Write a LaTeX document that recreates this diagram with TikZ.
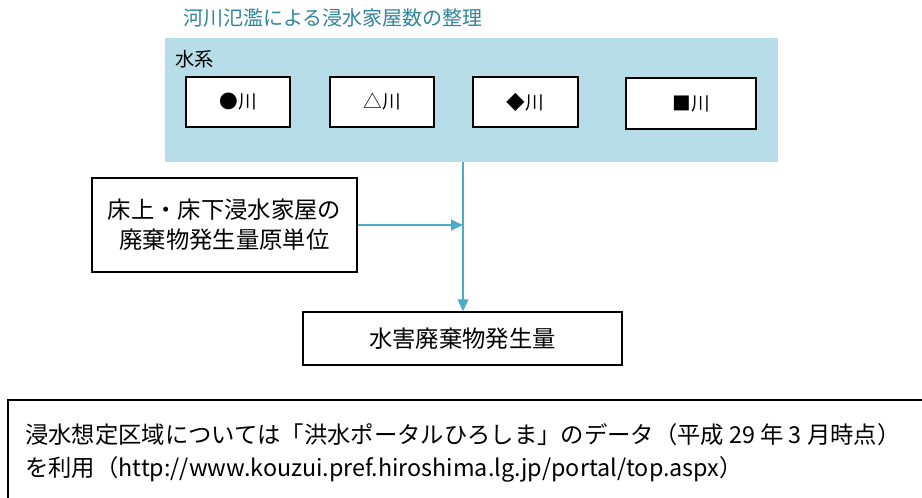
\documentclass[tikz,border=0pt]{standalone}
\usepackage{fontspec}
\setmainfont{Noto Sans CJK JP}
\usetikzlibrary{positioning,arrows.meta}

\definecolor{aquafill}{HTML}{B7DEE8}
\definecolor{aqualine}{HTML}{4BACC6}
\definecolor{aquatext}{HTML}{31849B}

\begin{document}
\begin{tikzpicture}[x=0.75pt, y=-0.75pt,
water_system/.style={rectangle, draw=none, fill=aquafill, minimum width=459.75pt, minimum height=93pt},
river_box/.style={rectangle, draw=black, fill=white, line width=1.1pt, minimum width=78pt, minimum height=37.5pt, font=\fontsize{14}{16}\selectfont},
plain_box/.style={rectangle, draw=black, fill=white, line width=1.1pt, align=center, font=\fontsize{17.5}{22.5}\selectfont},
out_arrow/.style={-{Triangle[length=9pt, width=8pt]}, draw=aqualine, line width=1.5pt},
flow_line/.style={draw=aqualine, line width=1.5pt}
]

\useasboundingbox (0,0) rectangle (922,497);
\clip (0,0) rectangle (922,497);

\node[anchor=west, text=aquatext, font=\fontsize{15}{18}\selectfont, inner sep=0pt](title) at (183,18) {河川氾濫による浸水家屋数の整理};

\node[water_system](system) at (471.5,100) {};
\node[anchor=west, font=\fontsize{14.5}{17}\selectfont, inner sep=0pt](system_label) at (175,59) {水系};

\node[river_box](river_one) at (238,102) {●川};
\node[river_box](river_two) at (382,102) {△川};
\node[river_box, minimum width=78.75pt](river_three) at (525.5,102) {◆川};
\node[river_box, minimum width=97.5pt, minimum height=38.25pt](river_four) at (691,103.5) {■川};

\node[plain_box, minimum width=198.75pt, minimum height=70.5pt](unit_rate) at (224.5,225) {床上・床下浸水家屋の\\廃棄物発生量原単位};
\node[plain_box, minimum width=239.25pt, minimum height=39.75pt](waste_amount) at (462.5,338.5) {水害廃棄物発生量};

\coordinate (join) at (463,225);

\node[rectangle, draw=black, line width=1.1pt, minimum width=695.25pt, minimum height=82.5pt](note_box) at (471.5,455) {};
\node[anchor=west, align=left, font=\fontsize{17.5}{24.75}\selectfont, inner sep=0pt](note_text) at (25,453) {浸水想定区域については「洪水ポータルひろしま」のデータ（平成 29 年 3 月時点）\\を利用（http://www.kouzui.pref.hiroshima.lg.jp/portal/top.aspx）};

\draw[out_arrow](system.south -| join) to [] (waste_amount.north -| join);
\draw[out_arrow](unit_rate.east) to [] (join);

\end{tikzpicture}
\end{document}
